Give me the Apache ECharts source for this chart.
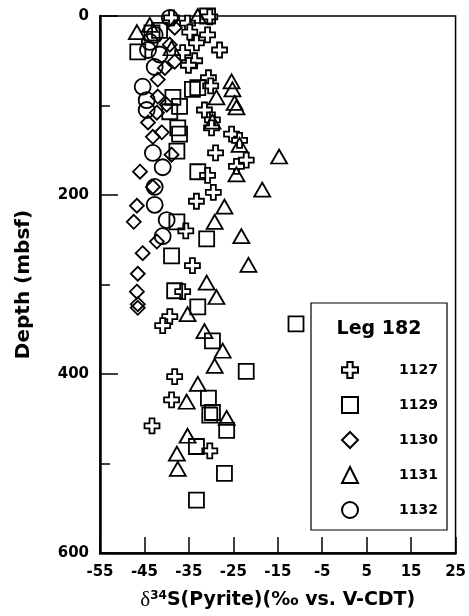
<!DOCTYPE html>
<html><head><meta charset="utf-8">
<script src="https://cdn.jsdelivr.net/npm/echarts@6/dist/echarts.min.js"></script>
<style>html,body{margin:0;padding:0;background:#fff}#c{width:469px;height:616px}</style>
</head><body><div id="c"></div>
<script>
// x: delta34S (permil), y: depth (mbsf)
const site1127 = [[-38.9,2],[-30.3,1],[-35.3,8],[-34.8,18],[-30.8,21],[-33.3,30],[-28.1,38],[-36.4,41],[-33.7,50],[-35.1,55],[-30.6,69],[-30.1,78],[-31.5,105],[-29.7,116],[-29.9,125],[-25.4,132],[-23.6,139],[-29.0,153],[-22.1,161],[-24.3,168],[-30.8,178],[-29.5,197],[-33.3,207],[-35.7,240],[-34.2,279],[-36.4,308],[-39.3,336],[-40.9,346],[-38.2,403],[-38.9,429],[-43.3,458],[-30.3,486]];
const site1129 = [[-30.8,0],[-46.5,40],[-43.3,19],[-41.6,16],[-33.0,80],[-34.2,82],[-38.6,91],[-37.1,101],[-39.3,107],[-37.5,125],[-37.1,132],[-37.7,151],[-33.0,174],[-37.7,230],[-31.0,249],[-38.9,268],[-38.2,307],[-33.0,325],[-29.7,363],[-22.1,397],[-30.6,427],[-29.7,443],[-30.3,446],[-26.5,463],[-33.3,481],[-27.0,511],[-33.3,541],[-10.9,344]];
const site1130 = [[-38.2,13],[-39.3,32],[-38.2,51],[-40.4,58],[-42.0,71],[-42.0,90],[-40.0,99],[-42.2,108],[-44.2,119],[-41.1,130],[-43.1,135],[-38.9,155],[-46.0,174],[-43.1,191],[-46.7,212],[-47.4,230],[-42.2,252],[-45.4,265],[-46.5,288],[-46.7,308],[-46.5,322],[-46.5,326]];
const site1131 = [[-46.7,18],[-43.8,10],[-33.0,0],[-38.9,36],[-25.4,73],[-25.2,82],[-28.8,91],[-24.7,97],[-24.3,102],[-29.7,118],[-23.6,144],[-14.7,157],[-24.3,177],[-18.5,194],[-27.0,213],[-29.2,230],[-23.2,246],[-21.6,278],[-31.0,298],[-28.8,314],[-35.3,333],[-31.5,352],[-27.4,374],[-29.2,391],[-33.0,411],[-35.5,431],[-26.5,449],[-35.3,469],[-37.7,489],[-37.5,506]];
const site1132 = [[-39.3,2],[-42.7,21],[-43.8,29],[-44.2,38],[-41.6,43],[-42.7,57],[-45.4,79],[-44.5,94],[-44.5,105],[-43.1,153],[-40.9,169],[-42.7,191],[-42.7,211],[-40.0,228],[-40.9,246]];
const xTicks = {min:-55, max:25, interval:10};
const yTicks = {min:0, max:600, interval:200};
const legendTitle = 'Leg 182';

const crossPath = 'path://M1,0L2,0L2,1L3,1L3,2L2,2L2,3L1,3L1,2L0,2L0,1L1,1Z';
const FONT = 'DejaVu Sans';
function ser(name, data, symbol, size, fill){
  return {name, type:'scatter', data, symbol, symbolSize:size,
    itemStyle:{color:fill, borderColor:'#000', borderWidth:1.8, opacity:1},
    emphasis:{disabled:true}};
}
const chart = echarts.init(document.getElementById('c'), null, {renderer:'canvas'});
chart.setOption({
  backgroundColor:'#fff',
  animation:false,
  grid:{left:100, right:12, top:16, bottom:61, show:true, borderColor:'#000', borderWidth:1.5, backgroundColor:'transparent'},
  xAxis:{type:'value', min:xTicks.min, max:xTicks.max, interval:xTicks.interval, position:'bottom',
    axisLine:{onZero:false, lineStyle:{color:'#000', width:2.5}},
    axisTick:{inside:true, length:16, lineStyle:{color:'#000', width:1.5}},
    splitLine:{show:false},
    axisLabel:{color:'#000', fontFamily:FONT, fontWeight:'bold', fontSize:15, margin:12},
    name:'{d|δ}{s|34}{b|S(Pyrite)(‰ vs. V-CDT)}', nameLocation:'middle', nameGap:37,
    nameTextStyle:{rich:{
      d:{fontFamily:'Liberation Serif', fontSize:21, color:'#000'},
      s:{fontFamily:FONT, fontWeight:'bold', fontSize:12, color:'#000', padding:[0,0,9,0]},
      b:{fontFamily:FONT, fontWeight:'bold', fontSize:19, color:'#000'}}}
  },
  yAxis:{type:'value', inverse:true, min:yTicks.min, max:yTicks.max, interval:yTicks.interval, position:'left',
    axisLine:{onZero:false, lineStyle:{color:'#000', width:2.5}},
    axisTick:{inside:true, length:18, lineStyle:{color:'#000', width:1.5}},
    minorTick:{show:true, splitNumber:2, length:10, lineStyle:{color:'#000', width:1.5}},
    splitLine:{show:false},
    axisLabel:{color:'#000', fontFamily:FONT, fontWeight:'bold', fontSize:15, margin:11},
    name:'Depth (mbsf)', nameLocation:'middle', nameGap:66, nameRotate:90,
    nameTextStyle:{color:'#000', fontFamily:FONT, fontWeight:'bold', fontSize:20}
  },
  legend:{orient:'vertical', left:341, top:361, padding:0, itemWidth:16, itemHeight:16, itemGap:17,
    formatter:n=>'{a|'+n+'}',
    textStyle:{rich:{a:{width:75, align:'right', fontFamily:FONT, fontWeight:'bold', fontSize:14, color:'#000'}}},
    z:20, selectedMode:false},
  graphic:[
    {type:'rect', shape:{x:311, y:303, width:136, height:227}, style:{fill:'#fff', stroke:'#000', lineWidth:1.2}, z:10},
    {type:'text', x:379, y:329, style:{text:legendTitle, fill:'#000', font:'bold 19px "DejaVu Sans"', align:'center', verticalAlign:'middle'}, z:11}
  ],
  series:[
    ser('1127', site1127, crossPath, 15, '#fff'),
    ser('1129', site1129, 'rect', 15, 'rgba(255,255,255,0)'),
    ser('1130', site1130, 'diamond', 14, 'rgba(255,255,255,0)'),
    ser('1131', site1131, 'triangle', [16,14], 'rgba(255,255,255,0)'),
    ser('1132', site1132, 'circle', 16, 'rgba(255,255,255,0)')
  ]
});
</script></body></html>
